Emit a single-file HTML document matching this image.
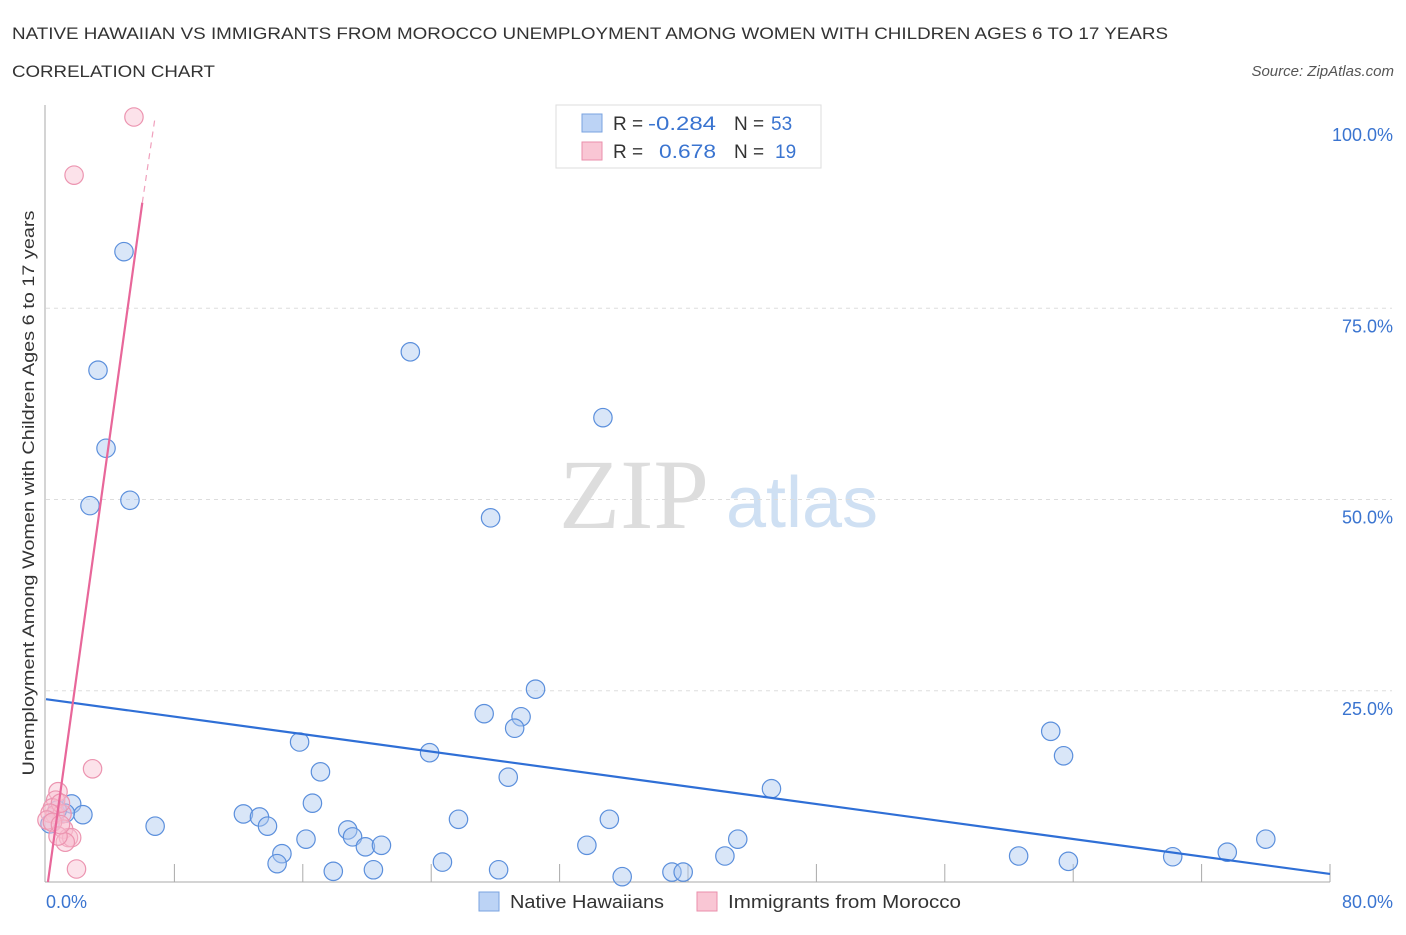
<!DOCTYPE html>
<html><head><meta charset="utf-8"><style>
body{margin:0;background:#fff;font-family:"Liberation Sans",sans-serif;}
</style></head><body>
<svg id="chart" width="1406" height="930" font-family="Liberation Sans, sans-serif">
<text x="12" y="39" font-size="17" fill="#333" textLength="1156" lengthAdjust="spacingAndGlyphs">NATIVE HAWAIIAN VS IMMIGRANTS FROM MOROCCO UNEMPLOYMENT AMONG WOMEN WITH CHILDREN AGES 6 TO 17 YEARS</text>
<text x="12" y="77" font-size="17" fill="#333" textLength="203" lengthAdjust="spacingAndGlyphs">CORRELATION CHART</text>
<text x="1394" y="76" font-size="15" fill="#555" font-style="italic" text-anchor="end">Source: ZipAtlas.com</text>
<text x="634" y="528" font-size="100" fill="#ddd" font-family="Liberation Serif, serif" text-anchor="middle">ZIP</text>
<text x="802" y="527" font-size="72" fill="#cfe0f3" text-anchor="middle">atlas</text>
<g id="grid"></g><g id="axes"></g><g id="pts"></g><g id="trend"></g>
<text transform="translate(34,493) rotate(-90)" font-size="17" fill="#333" text-anchor="middle" textLength="565" lengthAdjust="spacingAndGlyphs">Unemployment Among Women with Children Ages 6 to 17 years</text>
<text x="46" y="908" font-size="18" fill="#3a74d0">0.0%</text>
<text x="1393" y="908" font-size="18" fill="#3a74d0" text-anchor="end">80.0%</text>
<g>
<rect x="556" y="105" width="265" height="63" fill="#fff" stroke="#ddd"/>
<rect x="582" y="114" width="20" height="18" fill="#bcd3f5" stroke="#7aa3e0"/>
<rect x="582" y="142" width="20" height="18" fill="#f9c6d4" stroke="#ea8fab"/>
<text x="613" y="130" font-size="19" fill="#333">R = <tspan x="648" fill="#3a74d0" textLength="68" lengthAdjust="spacingAndGlyphs">-0.284</tspan><tspan x="734">N = </tspan><tspan x="771" fill="#3a74d0">53</tspan></text>
<text x="613" y="158" font-size="19" fill="#333">R = <tspan x="659" fill="#3a74d0" textLength="57" lengthAdjust="spacingAndGlyphs">0.678</tspan><tspan x="734">N = </tspan><tspan x="775" fill="#3a74d0">19</tspan></text>
</g>
<g>
<rect x="479" y="892" width="20" height="19" fill="#bcd3f5" stroke="#7aa3e0"/>
<text x="510" y="908" font-size="18" fill="#333" textLength="154" lengthAdjust="spacingAndGlyphs">Native Hawaiians</text>
<rect x="697" y="892" width="20" height="19" fill="#f9c6d4" stroke="#ea8fab"/>
<text x="728" y="908" font-size="18" fill="#333" textLength="233" lengthAdjust="spacingAndGlyphs">Immigrants from Morocco</text>
</g>
</svg>
<script>
const yTicks=[25,50,75,100];
const yTickLabels=["25.0%","50.0%","75.0%","100.0%"];
const blueX=[4.86,3.24,3.74,2.74,5.23,22.7,34.7,27.7,30.5,27.3,29.6,29.2,62.6,63.4,15.8,23.9,17.1,28.8,45.2,16.6,12.3,13.3,13.8,6.8,25.7,35.1,18.8,19.1,16.2,19.9,20.9,33.7,43.1,76.0,14.7,14.4,24.7,42.3,60.6,63.7,70.2,73.6,17.9,20.4,28.2,35.9,39.0,39.7,1.6,2.3,1.2,0.7,0.25];
const blueY=[82.4,66.9,56.7,49.2,49.9,69.3,60.7,47.6,25.2,22.0,21.6,20.1,19.7,16.5,18.3,16.9,14.4,13.7,12.2,10.3,8.9,8.5,7.3,7.3,8.2,8.2,6.8,5.9,5.6,4.6,4.8,4.8,5.6,5.6,3.7,2.4,2.6,3.4,3.4,2.7,3.3,3.9,1.4,1.6,1.6,0.7,1.3,1.3,10.2,8.8,9.0,9.4,7.6];
const pinkX=[5.48,1.75,2.9,0.75,0.6,0.4,0.56,1.0,0.9,0.25,1.1,1.4,1.6,1.2,1.9,0.06,0.4,0.75,0.9];
const pinkY=[100,92.4,14.8,11.8,10.7,9.7,8.8,8.9,10.3,9.0,6.9,5.8,5.8,5.2,1.7,8.1,7.8,6.0,7.5];
const blueTrend=[[0,23.9],[80,1.05]];
const pinkTrend=[[0.12,0],[6.0,88.8]];
const pinkDash=[[6.0,88.8],[6.8,100]];
const NS="http://www.w3.org/2000/svg";
const sx=v=>46+v/80*1284, sy=v=>882-v/100*765;
function mk(tag,attrs,parent){const e=document.createElementNS(NS,tag);for(const k in attrs)e.setAttribute(k,attrs[k]);document.getElementById(parent).appendChild(e);return e;}
yTicks.forEach((t,i)=>{
 if(t<100){const l=mk('line',{x1:46,x2:1392,y1:sy(t),y2:sy(t),stroke:'#ddd','stroke-dasharray':'4,4'},'grid');
 
 }
 const tx=mk('text',{x:1393,y:sy(t)+24,'font-size':18,fill:'#3a74d0','text-anchor':'end'},'grid');tx.textContent=yTickLabels[i];
 
 
});
const ya=mk('line',{x1:45,x2:45,y1:105,y2:882,stroke:'#aaa'},'axes');


const xa=mk('line',{x1:45,x2:1330,y1:882,y2:882,stroke:'#aaa'},'axes');


for(let i=1;i<=10;i++){const t=mk('line',{x1:sx(i*8),x2:sx(i*8),y1:864,y2:882,stroke:'#aaa'},'axes');
 
 }
blueX.forEach((x,i)=>{const c=mk('circle',{cx:sx(x),cy:sy(blueY[i]),r:9.2,fill:'rgba(170,200,240,0.45)',stroke:'#5b8fdc','stroke-width':1.2},'pts');
 
 });
pinkX.forEach((x,i)=>{const c=mk('circle',{cx:sx(x),cy:sy(pinkY[i]),r:9.2,fill:'rgba(248,190,208,0.45)',stroke:'#ec94b0','stroke-width':1.2},'pts');
 
 });
const bt=mk('line',{x1:sx(blueTrend[0][0]),y1:sy(blueTrend[0][1]),x2:sx(blueTrend[1][0]),y2:sy(blueTrend[1][1]),stroke:'#2f6fd6','stroke-width':2.2},'trend');


const pt=mk('line',{x1:sx(pinkTrend[0][0]),y1:sy(pinkTrend[0][1]),x2:sx(pinkTrend[1][0]),y2:sy(pinkTrend[1][1]),stroke:'#e8679a','stroke-width':2.2},'trend');


const pd=mk('line',{x1:sx(pinkDash[0][0]),y1:sy(pinkDash[0][1]),x2:sx(pinkDash[1][0]),y2:sy(pinkDash[1][1]),stroke:'#f0a0bc','stroke-width':1.2,'stroke-dasharray':'6,5'},'trend');


</script>
</body></html>
